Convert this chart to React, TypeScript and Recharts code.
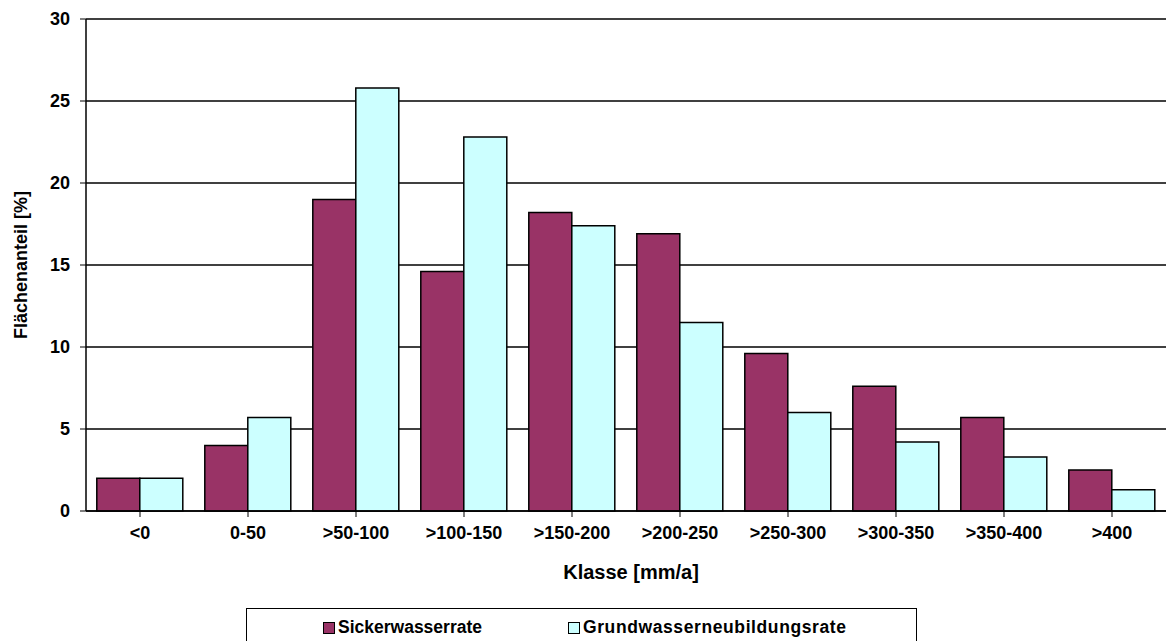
import { BarChart, Bar, CartesianGrid, XAxis, YAxis, Legend } from "recharts";

const classes = [
  "<0",
  "0-50",
  ">50-100",
  ">100-150",
  ">150-200",
  ">200-250",
  ">250-300",
  ">300-350",
  ">350-400",
  ">400",
];
const sickerwasser = [2.0, 4.0, 19.0, 14.6, 18.2, 16.9, 9.6, 7.6, 5.7, 2.5];
const grundwasser = [2.0, 5.7, 25.8, 22.8, 17.4, 11.5, 6.0, 4.2, 3.3, 1.3];
const yTicks = [0, 5, 10, 15, 20, 25, 30];

const SICKER = "#993366";
const GRUND = "#ccffff";
const FONT = "'Liberation Sans', Arial, sans-serif";

const data = classes.map((k, i) => ({
  klasse: k,
  sicker: sickerwasser[i],
  grund: grundwasser[i],
}));

function LegendBox() {
  const item = (color: string, label: string) => (
    <span style={{ display: "inline-flex", alignItems: "center" }}>
      <span
        style={{
          width: 10,
          height: 10,
          background: color,
          border: "1px solid #000",
          marginRight: 3,
        }}
      />
      {label}
    </span>
  );
  return (
    <div
      style={{
        boxSizing: "border-box",
        width: 671,
        height: 40,
        border: "1px solid #000",
        background: "#fff",
        fontFamily: FONT,
        fontWeight: "bold",
        fontSize: 17.5,
        color: "#000",
        display: "flex",
        alignItems: "flex-start",
        paddingTop: 8,
        paddingLeft: 76,
        whiteSpace: "nowrap",
      }}
    >
      {item(SICKER, "Sickerwasserrate")}
      <span style={{ width: 86, flexShrink: 0 }} />
      <span style={{ letterSpacing: 0.6 }}>{item(GRUND, "Grundwasserneubildungsrate")}</span>
    </div>
  );
}

export default function App() {
  return (
    <div style={{ position: "absolute", left: 0, top: 0, background: "#fff" }}>
      <BarChart
        width={1168}
        height={641}
        data={data}
        margin={{ top: 19, right: 2, bottom: 0, left: 0 }}
        barCategoryGap="10%"
        barGap={0}
      >
        <CartesianGrid
          vertical={false}
          stroke="#000"
          strokeWidth={1.5}
          horizontalValues={yTicks}
        />
        <XAxis
          dataKey="klasse"
          height={97}
          axisLine={{ stroke: "#000", strokeWidth: 1.5 }}
          tickLine={{ stroke: "#000" }}
          tickSize={6}
          tickMargin={9}
          interval={0}
          tick={{ fontSize: 18, fontFamily: FONT, fontWeight: "bold", fill: "#000" }}
          label={{
            content: (props: any) => {
              const vb = props.viewBox;
              return (
                <text
                  x={vb.x + vb.width / 2 + 5}
                  y={vb.y + 68}
                  textAnchor="middle"
                  fontSize={20}
                  fontFamily={FONT}
                  fontWeight="bold"
                  fill="#000"
                >
                  Klasse [mm/a]
                </text>
              );
            },
          }}
        />
        <YAxis
          width={86}
          domain={[0, 30]}
          ticks={yTicks}
          axisLine={{ stroke: "#000", strokeWidth: 1.5 }}
          tickLine={{ stroke: "#000" }}
          tickSize={6}
          tickMargin={10}
          tick={{ fontSize: 18, fontFamily: FONT, fontWeight: "bold", fill: "#000" }}
          label={{
            content: (props: any) => {
              const vb = props.viewBox;
              const cy = vb.y + vb.height / 2;
              return (
                <text
                  x={27}
                  y={cy}
                  transform={`rotate(-90, 27, ${cy})`}
                  textAnchor="middle"
                  fontSize={18}
                  fontFamily={FONT}
                  fontWeight="bold"
                  fill="#000"
                >
                  Flächenanteil [%]
                </text>
              );
            },
          }}
        />
        <Legend
          verticalAlign="bottom"
          content={() => <LegendBox />}
          wrapperStyle={{ left: 246, bottom: "auto", top: 608, width: 671, height: 33 }}
        />
        <Bar
          dataKey="sicker"
          name="Sickerwasserrate"
          fill={SICKER}
          stroke="#000"
          strokeWidth={1.5}
          isAnimationActive={false}
        />
        <Bar
          dataKey="grund"
          name="Grundwasserneubildungsrate"
          fill={GRUND}
          stroke="#000"
          strokeWidth={1.5}
          isAnimationActive={false}
        />
      </BarChart>
    </div>
  );
}
